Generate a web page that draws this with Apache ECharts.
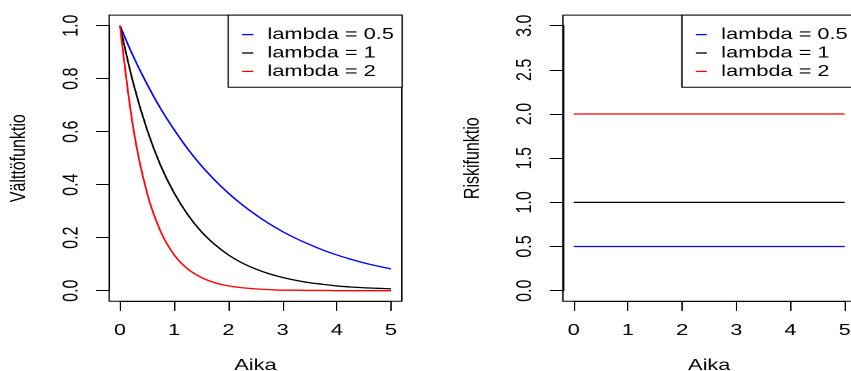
<!DOCTYPE html>
<html>
<head>
<meta charset="utf-8">
<script src="https://cdn.jsdelivr.net/npm/echarts@6/dist/echarts.min.js"></script>
<style>
  html, body { margin: 0; padding: 0; background: #fff; overflow: hidden; width: 851px; height: 371px; }
  #main { position: absolute; left: 0; top: 0; height: 371px; transform-origin: 0 0; }
</style>
</head>
<body>
<div id="main"></div>
<script>
// ---------------- data ----------------
const times = [0, 0.25, 0.5, 0.75, 1, 1.25, 1.5, 1.75, 2, 2.25, 2.5, 2.75, 3, 3.25, 3.5, 3.75, 4, 4.25, 4.5, 4.75, 5];
const survL05 = [1.000, 0.882, 0.779, 0.687, 0.607, 0.535, 0.472, 0.417, 0.368, 0.325, 0.287, 0.253, 0.223, 0.197, 0.174, 0.153, 0.135, 0.119, 0.105, 0.093, 0.082];
const survL1  = [1.000, 0.779, 0.607, 0.472, 0.368, 0.287, 0.223, 0.174, 0.135, 0.105, 0.082, 0.064, 0.050, 0.039, 0.030, 0.024, 0.018, 0.014, 0.011, 0.009, 0.007];
const survL2  = [1.000, 0.607, 0.368, 0.223, 0.135, 0.082, 0.050, 0.030, 0.018, 0.011, 0.007, 0.004, 0.002, 0.002, 0.001, 0.001, 0.000, 0.000, 0.000, 0.000, 0.000];

const hazardTimes = [0, 5];
const hazardL05 = [0.5, 0.5];
const hazardL1  = [1, 1];
const hazardL2  = [2, 2];

const seriesNames  = ['lambda = 0.5', 'lambda = 1', 'lambda = 2'];
const seriesColors = ['#0000FF', '#000000', '#FF0000'];

const xTicks     = [0, 1, 2, 3, 4, 5];
const survTicks  = ['0.0', '0.2', '0.4', '0.6', '0.8', '1.0'];
const hazTicks   = ['0.0', '0.5', '1.0', '1.5', '2.0', '2.5', '3.0'];

const xTitle = 'Aika';
const survTitle = 'Välttöfunktio';
const hazTitle = 'Riskifunktio';

// ---------------- layout ----------------
const S = 1.36;                 // horizontal stretch of the original picture
const W = 851 / S;
const FONT = "'Liberation Sans', Arial, Helvetica, sans-serif";
const el = document.getElementById('main');
el.style.width = W + 'px';
el.style.transform = 'scaleX(' + S + ')';

const innerTop = 25.7, innerH = 265;
const innerW = 271 / S;
const padX = innerW * 0.04, padY = innerH * 0.04;
const panelLefts = [120 / S, (120 + 453.7) / S];

const grids = [], xAxes = [], yAxes = [], series = [], legends = [];

function addPanel(p, ticks, title, lineSets) {
  const innerLeft = panelLefts[p];
  const gi = grids.length;
  grids.push({ left: innerLeft, top: innerTop, width: innerW, height: innerH,
               containLabel: false, outerBoundsMode: 'none' });
  grids.push({ left: innerLeft - padX, top: innerTop - padY, width: innerW + 2 * padX, height: innerH + 2 * padY,
               containLabel: false, outerBoundsMode: 'none',
               show: true, borderColor: '#000', borderWidth: 1, backgroundColor: 'transparent' });
  const yVals = ticks.map(Number);
  xAxes.push({
    type: 'value', gridIndex: gi, min: xTicks[0], max: xTicks[xTicks.length - 1], interval: xTicks[1] - xTicks[0],
    position: 'bottom', offset: padY,
    axisLine: { show: true, onZero: false, lineStyle: { color: '#000', width: 1 } },
    axisTick: { show: true, length: 9.6, lineStyle: { color: '#000', width: 1 } },
    splitLine: { show: false },
    axisLabel: { margin: 21.5, fontSize: 16, fontFamily: FONT, color: '#000', hideOverlap: false },
    name: xTitle, nameLocation: 'middle', nameGap: 56.5,
    nameTextStyle: { fontSize: 16, fontFamily: FONT, color: '#000' }
  });
  xAxes.push({ type: 'value', gridIndex: gi + 1, min: -0.2, max: 5.2, show: false });
  yAxes.push({
    type: 'value', gridIndex: gi, min: yVals[0], max: yVals[yVals.length - 1], interval: yVals[1] - yVals[0],
    position: 'left', offset: padX,
    axisLine: { show: true, onZero: false, lineStyle: { color: '#000', width: 1 } },
    axisTick: { show: true, length: 9.6, lineStyle: { color: '#000', width: 1 } },
    splitLine: { show: false },
    axisLabel: { rotate: 90, margin: 19.7, fontSize: 16, fontFamily: FONT, color: '#000',
                 formatter: v => ticks[Math.round((v - yVals[0]) / (yVals[1] - yVals[0]))] },
    name: title, nameLocation: 'middle', nameRotate: 90, nameGap: 58.3,
    nameTextStyle: { fontSize: 16, fontFamily: FONT, color: '#000' }
  });
  yAxes.push({ type: 'value', gridIndex: gi + 1, min: 0, max: 1, show: false });
  const axisIdx = xAxes.length - 2;
  lineSets.forEach((ls, i) => {
    series.push({
      type: 'line', name: seriesNames[i], xAxisIndex: axisIdx, yAxisIndex: axisIdx,
      data: ls.x.map((t, k) => [t, ls.y[k]]),
      showSymbol: false, symbol: 'none', clip: false,
      smooth: 0.35,
      color: seriesColors[i],
      lineStyle: { color: seriesColors[i], width: 1.3 },
      animation: false
    });
  });
  const boxRight = innerLeft + innerW + padX;
  legends.push({
    data: seriesNames, orient: 'vertical', right: W - boxRight, top: innerTop - padY,
    icon: 'rect', itemWidth: 11 / S, itemHeight: 1.3, itemGap: 0,
    padding: [10.3, 6.1, 6.7, 10.3],
    borderColor: '#000', borderWidth: 1, backgroundColor: '#fff',
    selectedMode: false,
    textStyle: { fontSize: 16, fontFamily: FONT, color: '#000', lineHeight: 18.4, padding: [0, 0, 0, 5.5] }
  });
}

addPanel(0, survTicks, survTitle, [
  { x: times, y: survL05 }, { x: times, y: survL1 }, { x: times, y: survL2 }
]);
addPanel(1, hazTicks, hazTitle, [
  { x: hazardTimes, y: hazardL05 }, { x: hazardTimes, y: hazardL1 }, { x: hazardTimes, y: hazardL2 }
]);

const chart = echarts.init(el, null, { renderer: 'canvas', devicePixelRatio: 2 });
chart.setOption({
  animation: false,
  backgroundColor: '#fff',
  grid: grids, xAxis: xAxes, yAxis: yAxes, legend: legends, series: series
});
</script>
</body>
</html>
